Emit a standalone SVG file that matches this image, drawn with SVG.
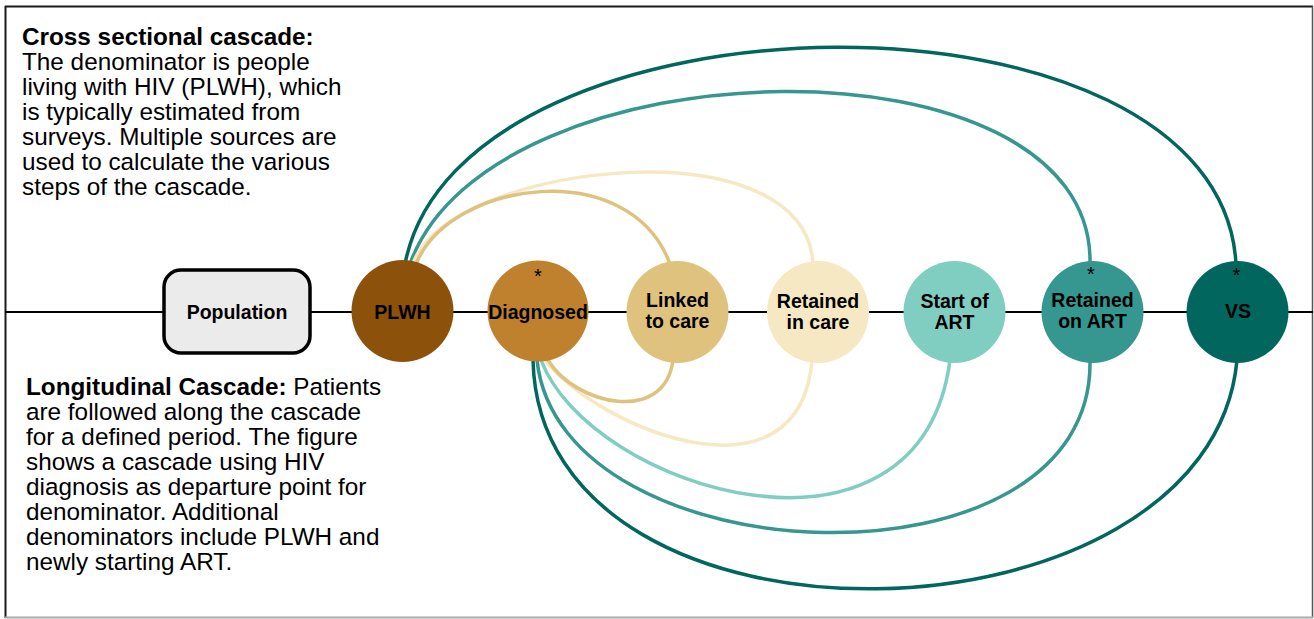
<svg xmlns="http://www.w3.org/2000/svg" width="1314" height="619" viewBox="0 0 1314 619">
<style>
text{font-family:"Liberation Sans",Arial,sans-serif;fill:#000}
.desc{font-size:24.3px}
.b{font-weight:bold}
.lbl{font-size:19.5px;font-weight:bold;text-anchor:middle}
.ast{font-size:20px;text-anchor:middle}
.arc{fill:none;stroke-width:3.5;stroke-linecap:round}
</style>
<rect x="0" y="0" width="1314" height="619" fill="#ffffff"/>
<g id="frame">
<line x1="5" y1="6.5" x2="1313" y2="6.5" stroke="#1a1a1a" stroke-width="2"/>
<line x1="5.5" y1="6" x2="5.5" y2="618" stroke="#1a1a1a" stroke-width="2"/>
<line x1="1312.5" y1="6" x2="1312.5" y2="618" stroke="#555555" stroke-width="1.5"/>
<line x1="5" y1="617.5" x2="1313" y2="617.5" stroke="#aaaaaa" stroke-width="2"/>
</g>
<g id="texts">
<text class="desc" x="22" y="45"><tspan class="b">Cross sectional cascade:</tspan></text>
<text class="desc" x="22" y="70">The denominator is people</text>
<text class="desc" x="22" y="95">living with HIV (PLWH), which</text>
<text class="desc" x="22" y="120">is typically estimated from</text>
<text class="desc" x="22" y="145">surveys. Multiple sources are</text>
<text class="desc" x="22" y="170">used to calculate the various</text>
<text class="desc" x="22" y="195">steps of the cascade.</text>
<text class="desc" x="26" y="395"><tspan class="b">Longitudinal Cascade:</tspan> Patients</text>
<text class="desc" x="26" y="420">are followed along the cascade</text>
<text class="desc" x="26" y="445">for a defined period. The figure</text>
<text class="desc" x="26" y="470">shows a cascade using HIV</text>
<text class="desc" x="26" y="495">diagnosis as departure point for</text>
<text class="desc" x="26" y="520">denominator. Additional</text>
<text class="desc" x="26" y="545">denominators include PLWH and</text>
<text class="desc" x="26" y="570">newly starting ART.</text>
</g>
<g id="connectors">
<line x1="5" y1="312" x2="1313" y2="312" stroke="#000" stroke-width="2"/>
<path class="arc" stroke="#01665e" d="M405,264 C460,-20 1220,-30 1236,264"/>
<path class="arc" stroke="#35978f" d="M410,264 C490,40 1095,28 1090,264"/>
<path class="arc" stroke="#f6e8c3" d="M413,264 C445,165 805,120 813,264"/>
<path class="arc" stroke="#dfc27d" d="M416,264 C450,180 630,155 670,264"/>
<path class="arc" stroke="#01665e" d="M533,360 C540,675 1210,655 1237,360"/>
<path class="arc" stroke="#35978f" d="M537,360 C560,580 1095,600 1090,360"/>
<path class="arc" stroke="#80cdc1" d="M541,360 C590,490 920,590 950,360"/>
<path class="arc" stroke="#f6e8c3" d="M545,360 C600,430 800,510 812,360"/>
<path class="arc" stroke="#dfc27d" d="M548,360 C575,405 665,425 673,360"/>
</g>
<g id="population">
<rect x="164" y="270" width="146" height="83" rx="17" fill="#ebebeb" stroke="#000" stroke-width="3.5"/>
<text class="lbl" x="237" y="319">Population</text>
</g>
<g id="plwh">
<circle cx="402.5" cy="311" r="51" fill="#8c510a"/>
<text class="lbl" x="402.5" y="319">PLWH</text>
</g>
<g id="diagnosed">
<circle cx="538" cy="311" r="50.5" fill="#bf812d"/>
<text class="ast" x="538" y="283">*</text>
<text class="lbl" x="538" y="319">Diagnosed</text>
</g>
<g id="linked">
<circle cx="677.5" cy="312" r="51" fill="#dfc27d"/>
<text class="lbl" x="677.5" y="307">Linked</text>
<text class="lbl" x="677.5" y="328">to care</text>
</g>
<g id="retained-care">
<circle cx="818" cy="312" r="51" fill="#f6e8c3"/>
<text class="lbl" x="818" y="308">Retained</text>
<text class="lbl" x="818" y="329">in care</text>
</g>
<g id="start-art">
<circle cx="954.5" cy="312" r="51" fill="#80cdc1"/>
<text class="lbl" x="954.5" y="308">Start of</text>
<text class="lbl" x="954.5" y="329">ART</text>
</g>
<g id="retained-art">
<circle cx="1092.5" cy="312" r="51" fill="#35978f"/>
<text class="ast" x="1091" y="281">*</text>
<text class="lbl" x="1092.5" y="307">Retained</text>
<text class="lbl" x="1092.5" y="328">on ART</text>
</g>
<g id="vs">
<circle cx="1237.5" cy="312" r="51" fill="#01665e"/>
<text class="ast" x="1236.5" y="282">*</text>
<text class="lbl" x="1238" y="318">VS</text>
</g>
</svg>
